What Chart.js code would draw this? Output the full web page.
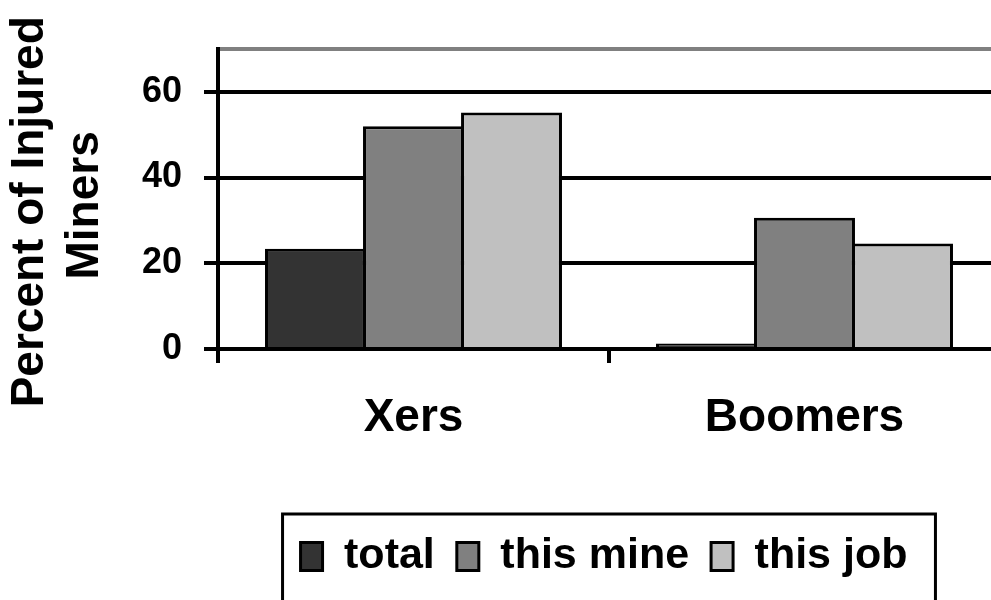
<!DOCTYPE html>
<html>
<head>
<meta charset="utf-8">
<script src="https://cdn.jsdelivr.net/npm/chart.js@4"></script>
<style>
  html, body { margin: 0; padding: 0; background: #fff; overflow: hidden; }
</style>
</head>
<body>
<canvas id="minersChart" width="1000" height="600"></canvas>
<script>
// data
const categories = ["Xers", "Boomers"];
const totalVals = [23.4, 1.3];
const thisMineVals = [52, 30.6];
const thisJobVals = [55.2, 24.6];
const yTicks = [0, 20, 40, 60];
const yMax = 70;

const FONT = "'Liberation Sans', Arial, sans-serif";

// legend sits right of canvas centre and has a frame round it
const legendFrame = {
  id: "legendFrame",
  afterLayout(chart) {
    const lg = chart.legend;
    lg.left += 104;
    lg.right += 104;
  },
  afterDraw(chart) {
    const lg = chart.legend;
    const hb = lg.legendHitBoxes;
    if (!hb || !hb.length) return;
    const last = hb[hb.length - 1];
    const ctx = chart.ctx;
    const x0 = hb[0].left - 18;
    const x1 = last.left + last.width + 28;
    ctx.save();
    ctx.strokeStyle = "#000";
    ctx.lineWidth = 3;
    ctx.strokeRect(x0, lg.top + 1, x1 - x0, 120);
    ctx.restore();
  }
};

new Chart(document.getElementById("minersChart"), {
  type: "bar",
  data: {
    labels: categories,
    datasets: [
      { label: "total", data: totalVals, backgroundColor: "#333333" },
      { label: "this mine", data: thisMineVals, backgroundColor: "#808080" },
      { label: "this job", data: thisJobVals, backgroundColor: "#c0c0c0" },
    ],
  },
  options: {
    responsive: false,
    animation: false,
    layout: { padding: { left: 0, right: 0, top: 49, bottom: 12 } },
    datasets: {
      bar: {
        borderColor: "#000",
        borderWidth: 3,
        categoryPercentage: 0.752,
        barPercentage: 1.03,
      },
    },
    plugins: {
      tooltip: { enabled: false },
      legend: {
        position: "bottom",
        labels: {
          color: "#000",
          font: { family: FONT, size: 43, weight: "bold" },
          boxWidth: 22,
          boxHeight: 28,
          padding: 22,
        },
      },
    },
    scales: {
      x: {
        afterFit(scale) { scale.height = 164; },
        grid: {
          drawOnChartArea: false,
          drawTicks: true,
          tickLength: 14,
          color: "#000",
          lineWidth: 4,
        },
        border: { color: "#000", width: 4 },
        ticks: {
          color: "#000",
          padding: 28,
          font: { family: FONT, size: 46, weight: "bold" },
        },
      },
      y: {
        min: 0,
        max: yMax,
        afterFit(scale) { scale.width = 218; },
        grid: {
          color: (c) => (c.tick && c.tick.value === yMax ? "#808080" : "#000"),
          tickColor: (c) => (c.tick && c.tick.value === yMax ? "rgba(0,0,0,0)" : "#000"),
          lineWidth: 4,
          tickLength: 14,
        },
        border: { color: "#000", width: 4 },
        ticks: {
          stepSize: 20,
          color: "#000",
          padding: 22,
          font: { family: FONT, size: 36, weight: "bold" },
          callback: (v) => (yTicks.includes(v) ? v : ""),
        },
        title: {
          display: true,
          // trailing spaces nudge the centred lines down a little
          text: ["Percent of Injured  ", "Miners "],
          color: "#000",
          padding: { top: 3 },
          font: { family: FONT, size: 46, weight: "bold" },
        },
      },
    },
  },
  plugins: [legendFrame],
});
</script>
</body>
</html>
